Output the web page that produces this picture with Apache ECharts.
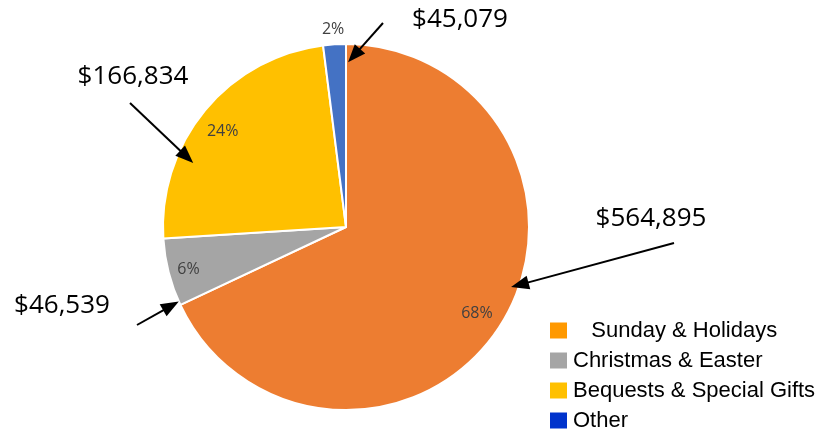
<!DOCTYPE html>
<html><head><meta charset="utf-8">
<script src="https://cdn.jsdelivr.net/npm/echarts@6/dist/echarts.min.js"></script>
<style>html,body{margin:0;padding:0;background:#fff}#c{width:817px;height:435px}</style></head>
<body><div id="c"></div>
<script>
const categories = ['Sunday & Holidays', 'Christmas & Easter', 'Bequests & Special Gifts', 'Other'];
const shares = [68, 6, 24, 2];
const amountLabels = ['$564,895', '$46,539', '$166,834', '$45,079'];
const sliceColors = ['#ED7D31', '#A5A5A5', '#FFC000', '#4472C4'];
const legendColors = ['#FF9900', '#A5A5A5', '#FFC000', '#0033CC'];

const CX = 346, CY = 227, R = 183;
// annotation layout: arrow tip in polar terms (deg clockwise from top, fraction of radius), tail & text in px
const annoLayout = [
  { tipAngle: 110, tipR: 0.96, tail: [674, 243], text: [651, 219] },
  { tipAngle: 246, tipR: 1.0, tail: [137, 325], text: [62, 306] },
  { tipAngle: 292.7, tipR: 0.905, tail: [130, 103], text: [133, 77] },
  { tipAngle: 0.7, tipR: 0.9, tail: [383, 23], text: [460, 20] }
];

const graphics = [];
annoLayout.forEach((a, i) => {
  const th = a.tipAngle * Math.PI / 180;
  const tip = [CX + R * a.tipR * Math.sin(th), CY - R * a.tipR * Math.cos(th)];
  const dx = tip[0] - a.tail[0], dy = tip[1] - a.tail[1];
  const len = Math.sqrt(dx * dx + dy * dy);
  const ux = dx / len, uy = dy / len;
  const hl = 18, hw = 7;
  const base = [tip[0] - ux * hl, tip[1] - uy * hl];
  graphics.push({
    type: 'line', silent: true, z: 100,
    shape: { x1: a.tail[0], y1: a.tail[1], x2: base[0] + ux * 2, y2: base[1] + uy * 2 },
    style: { stroke: '#000', lineWidth: 2 }
  });
  graphics.push({
    type: 'polygon', silent: true, z: 100,
    shape: { points: [tip, [base[0] - uy * hw, base[1] + ux * hw], [base[0] + uy * hw, base[1] - ux * hw]] },
    style: { fill: '#000' }
  });
  graphics.push({
    type: 'text', silent: true, z: 100,
    style: { text: amountLabels[i], x: a.text[0], y: a.text[1], align: 'center', verticalAlign: 'middle',
      fontSize: 26, fontFamily: 'Open Sans', fill: '#000' }
  });
});

const chart = echarts.init(document.getElementById('c'), null, { renderer: 'canvas' });
chart.setOption({
  backgroundColor: '#fff',
  animation: false,
  legend: {
    orient: 'vertical', left: 548, top: 316, padding: 0, selectedMode: false,
    itemWidth: 19, itemHeight: 18, itemGap: 1, icon: 'rect',
    textStyle: { fontFamily: 'Liberation Sans', fontSize: 22, lineHeight: 29, color: '#000' },
    formatter: n => n === categories[0] ? '   ' + n : n,
    data: categories.map((c, i) => ({ name: c, itemStyle: { color: legendColors[i] } }))
  },
  graphic: graphics,
  series: [
    {
      type: 'pie', center: [CX, CY], radius: [0, R], startAngle: 90, clockwise: true,
      silent: true, label: { show: false }, labelLine: { show: false },
      itemStyle: { borderColor: '#fff', borderWidth: 2 },
      data: categories.map((c, i) => ({ name: c, value: shares[i], itemStyle: { color: sliceColors[i] } }))
    },
    {
      type: 'pie', center: [CX, CY], radius: [126, R], startAngle: 90, clockwise: true,
      silent: true, legendHoverLink: false,
      itemStyle: { color: 'rgba(0,0,0,0)' },
      label: { show: true, position: 'inside', formatter: '{c}%', fontFamily: 'Open Sans', fontSize: 16, color: '#404040' },
      labelLine: { show: false },
      data: categories.map((c, i) => ({
        name: c, value: shares[i],
        label: [{ offset: [-2, 2] }, { offset: [-5, 3] }, { offset: [-2, 5] }, { offset: [-3, -40] }][i]
      }))
    }
  ]
});
</script></body></html>
